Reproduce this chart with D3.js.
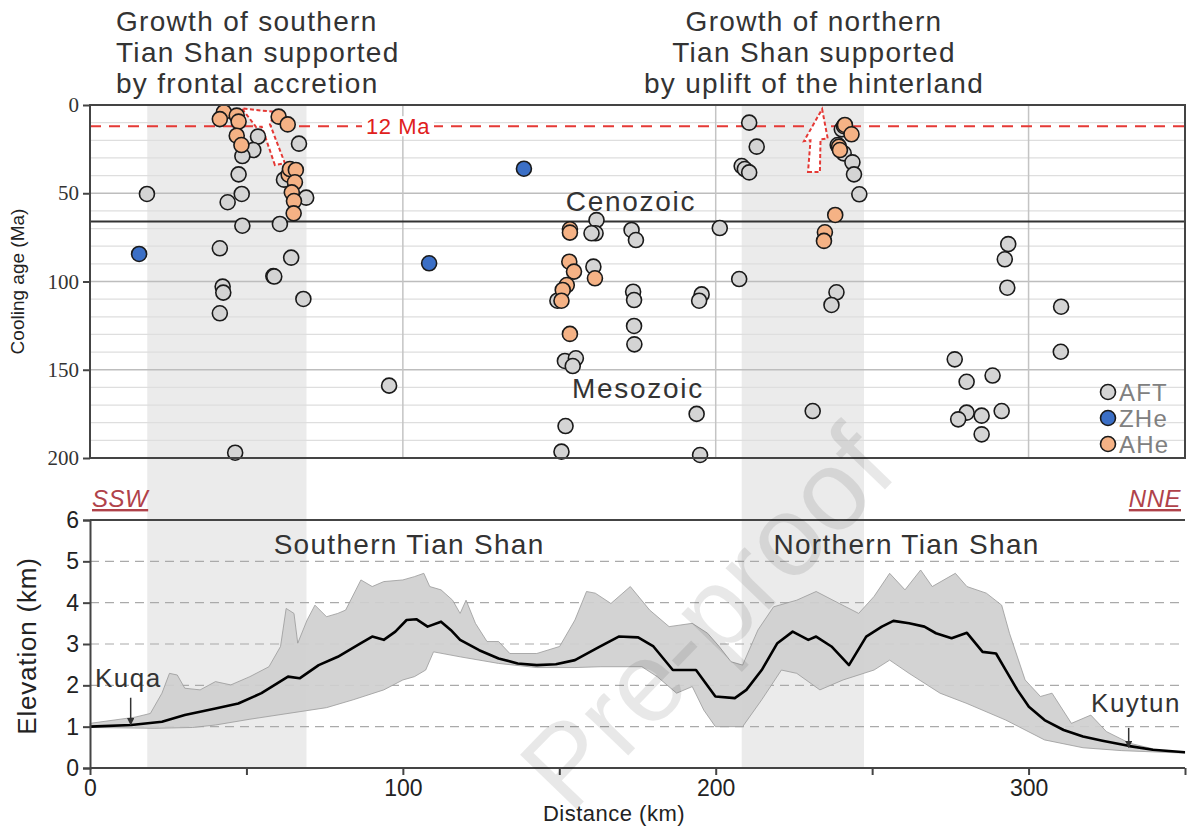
<!DOCTYPE html>
<html>
<head>
<meta charset="utf-8">
<script src="https://cdn.jsdelivr.net/npm/d3@7"></script>
<style>
  body { margin: 0; background: #fff; }
  text { font-family: "Liberation Sans", Arial, sans-serif; }
</style>
</head>
<body>
<svg id="chart" width="1187" height="828"></svg>
<script>
// thermochronology ages (distance km, cooling age Ma)
var aftDist = [18.2, 46.4, 41.5, 42.4, 42.6, 41.5, 44, 48.7, 47.5, 48.5, 53.7, 52.2, 48.7, 66.8, 62, 69.1, 60.7, 64.3, 58.6, 58.9, 68.2, 95.6,
  161.9, 161.6, 160.3, 173.1, 174.5, 201.3, 160.9, 149.4, 173.6, 173.9, 195.5, 194.7, 173.9, 174, 151.8, 155.3, 154.3, 193.9, 152, 150.7, 195,
  210.7, 213.1, 208.3, 209.3, 210.7, 207.5, 238.6, 237, 231, 240.3, 240.9, 243.7, 244.2, 245.9, 239,
  293.5, 292.4, 293.2, 310.4, 310.3, 276.4, 288.5, 280.2, 291.4, 280.2, 285, 277.5, 285];
var aftAge = [50.4, 197, 81.2, 102.9, 106.3, 118, 55.1, 68.4, 39.3, 50.4, 17.9, 25.5, 28.9, 21.9, 42.3, 52.5, 67.4, 86.5, 96.9, 97.2, 109.9, 159,
  65.2, 72.7, 72.7, 70.8, 76.5, 69.7, 91.6, 110.9, 105.8, 110.5, 107.3, 110.9, 125.2, 135.6, 145, 143.5, 147.9, 175, 181.9, 196.4, 198.3,
  10, 23.6, 34.6, 36.3, 38.2, 98.6, 106.1, 113.3, 173.4, 13.8, 27.4, 32.5, 39.3, 50.6, 22.7,
  78.8, 87.4, 103.5, 114.3, 139.8, 144.1, 153.3, 156.8, 173.4, 174.3, 176, 178.1, 186.6];
var zheDist = [15.7, 108.4, 138.7];
var zheAge = [84.4, 89.7, 36.1];
var aheDist = [42.8, 41.5, 46.9, 47.5, 46.9, 48.4, 60.3, 63.2, 63.5, 63.9, 65.8, 65.5, 64.5, 65.2, 65.1,
  153.4, 153.4, 153.2, 154.7, 161.4, 152.4, 151.1, 150.7, 153.4,
  241, 241.3, 243.4, 239.4, 239.7, 238.2, 234.9, 234.6];
var aheAge = [4.1, 8, 6, 9.4, 17.4, 22.7, 6.6, 11, 39.5, 36.3, 36.8, 43.8, 49.5, 54.4, 61.4,
  70.4, 72.3, 88.8, 94.4, 98.2, 102, 104.8, 110.9, 129.7,
  12, 11.3, 16.6, 23.6, 25.5, 62.3, 72.1, 77];

// swath topographic profile (distance km, elevation km)
var meanDist = [0, 13.2, 23, 30.3, 40.1, 47.4, 54.8, 63.3, 67, 73.1, 79.2, 86.6, 90.2, 93.9, 97.6, 101.2, 104.3, 107.9, 112.2, 115.3, 118.3,
  124.4, 130.6, 136.7, 142.8, 148.9, 155, 162.5, 169, 175.2, 180.1, 186.3, 193.7, 199.9, 206.1, 209.8, 214.7, 219.7, 224.6, 229.6, 232.1,
  237, 242.6, 248.1, 253.1, 256.8, 261.8, 266.7, 270.4, 275.4, 280.3, 285.3, 289.6, 292.7, 296.4, 300.1, 305.1, 311.2, 317.4, 323.6, 332.3, 339.7, 350];
var meanElev = [1.0, 1.04, 1.12, 1.28, 1.44, 1.56, 1.81, 2.21, 2.17, 2.49, 2.69, 3.02, 3.18, 3.1, 3.3, 3.58, 3.6, 3.42, 3.54, 3.34, 3.1,
  2.85, 2.65, 2.53, 2.49, 2.51, 2.61, 2.92, 3.18, 3.16, 2.94, 2.37, 2.37, 1.73, 1.69, 1.89, 2.37, 3.02, 3.3, 3.1, 3.18,
  2.94, 2.49, 3.18, 3.42, 3.56, 3.5, 3.42, 3.26, 3.14, 3.27, 2.81, 2.77, 2.37, 1.89, 1.48, 1.16, 0.92, 0.76, 0.66, 0.53, 0.44, 0.38];
var maxDist = [0, 14.4, 19.3, 23, 25.4, 27.9, 30.3, 35.2, 40.1, 45, 51.1, 57.2, 60.9, 62.7, 65.2, 66.4, 69.4, 71.9, 75.6, 79.2, 81.7, 86.6,
  90.2, 93.9, 100, 103.7, 106.7, 108.6, 112.2, 115.9, 118.3, 120.2, 123.2, 126.9, 130.6, 134.2, 142.8, 150.1, 155, 158.7, 161.5, 166.5,
  172.7, 178.9, 185.1, 192.5, 197.4, 201.1, 204.9, 208.6, 213.5, 218.5, 225.9, 232.1, 239.5, 245.7, 250.6, 255.6, 260.5, 265.5, 269.2,
  276.6, 280.3, 286.5, 291.4, 293.9, 298.9, 303.8, 307.5, 313.7, 319.9, 324.9, 332.3, 342.2, 350];
var maxElev = [1.08, 1.23, 1.32, 1.81, 2.29, 2.25, 1.93, 1.89, 2.09, 2.01, 2.21, 2.45, 2.94, 3.86, 3.74, 3.02, 3.58, 3.94, 3.66, 3.74, 3.82, 4.55,
  4.39, 4.51, 4.55, 4.63, 4.71, 4.39, 4.31, 4.06, 3.74, 4.06, 3.5, 3.06, 3.06, 2.77, 2.77, 2.94, 3.58, 4.27, 4.23, 3.98,
  4.39, 3.82, 3.42, 3.5, 3.26, 2.94, 2.57, 2.49, 3.34, 3.9, 4.06, 4.27, 3.98, 3.74, 4.15, 4.71, 4.31, 4.79, 4.39,
  4.71, 4.39, 4.23, 3.94, 3.26, 2.13, 1.73, 1.81, 1.08, 1.28, 0.88, 0.6, 0.42, 0.37];
var minDist = [0, 20.5, 32.8, 40.1, 51.1, 63.3, 75.6, 84.1, 93.9, 100, 103.7, 107.3, 109.8, 118.3, 130.6, 142.8, 155, 163.3, 176.4, 181.3,
  187.5, 192.5, 196.2, 199.9, 208.6, 214.7, 221, 225.9, 233.3, 240.7, 250.6, 255.6, 261.8, 271.7, 280.3, 292.7, 305.1, 317.4, 329.8, 350];
var minElev = [0.98, 0.96, 0.98, 1.04, 1.18, 1.32, 1.46, 1.65, 1.89, 2.13, 2.21, 2.37, 2.81, 2.69, 2.53, 2.43, 2.43, 2.45, 2.45, 2.21,
  1.81, 1.97, 1.4, 1.0, 1.0, 1.65, 2.37, 2.29, 1.89, 2.13, 2.37, 2.61, 2.29, 1.81, 1.56, 1.16, 0.68, 0.49, 0.42, 0.36];

var bands = [[18.3, 69.2], [208.3, 247.4]];
var cenozoicBase = 66, marker12 = 12;
var ageTicks = [0, 50, 100, 150, 200];
var elevTicks = [0, 1, 2, 3, 4, 5, 6];
var distTicks = [0, 100, 200, 300];

var svg = d3.select("#chart");
var x = d3.scaleLinear().domain([0, 350]).range([90, 1185]);
var yAge = d3.scaleLinear().domain([0, 200]).range([105, 458]);
var yElev = d3.scaleLinear().domain([0, 6]).range([768, 520]);

function label(g, txt, px, py, size, ls, anchor, fill) {
  return g.append("text").attr("x", px).attr("y", py).attr("text-anchor", anchor || "start")
    .style("font-size", size + "px").style("letter-spacing", ls + "px").style("fill", fill || "#333").text(txt);
}

// shaded bands through both panels
svg.selectAll(".band").data(bands).enter().append("rect")
  .attr("x", d => x(d[0])).attr("width", d => x(d[1]) - x(d[0]))
  .attr("y", yAge(0)).attr("height", yElev(0) - yAge(0))
  .style("fill", "#ebebeb");

// ---------- top panel ----------
var topG = svg.append("g");
topG.selectAll(".hg").data(d3.range(10, 200, 10)).enter().append("line")
  .attr("x1", x(0)).attr("x2", x(350)).attr("y1", d => yAge(d)).attr("y2", d => yAge(d))
  .style("stroke", d => d % 50 == 0 ? "#bdbdbd" : "#dedede").style("stroke-width", d => d % 50 == 0 ? 1.5 : 1.2);
topG.selectAll(".vg").data([100, 200, 300]).enter().append("line")
  .attr("x1", d => x(d)).attr("x2", d => x(d)).attr("y1", yAge(0)).attr("y2", yAge(200))
  .style("stroke", "#c4c4c4").style("stroke-width", 1.5);

topG.append("line").attr("x1", x(0)).attr("x2", x(350))
  .attr("y1", yAge(cenozoicBase)).attr("y2", yAge(cenozoicBase))
  .style("stroke", "#333").style("stroke-width", 2);
topG.append("line").attr("x1", x(0)).attr("x2", x(350))
  .attr("y1", yAge(marker12)).attr("y2", yAge(marker12))
  .style("stroke", "#e53935").style("stroke-width", 2).style("stroke-dasharray", "11,8");
topG.append("rect").attr("x", 362).attr("y", yAge(marker12) - 10).attr("width", 72).attr("height", 20).style("fill", "#fff");
label(topG, "12 Ma", 398, yAge(marker12) + 8, 22, 0.6, "middle", "#e0201c");

// exhumation arrows
var arrows = [
  [[59.1, 34.0], [54.9, 12.3], [53.1, 12.5], [48.5, 1.9], [59.4, 4.0], [57.5, 10.8], [62.3, 33.0]],
  [[229.5, 38], [233.3, 38], [233.5, 19.5], [235.8, 19], [234, 2.3], [228.2, 20.5], [230.3, 20]]
];
topG.selectAll(".arrow").data(arrows).enter().append("path")
  .attr("d", d => d3.line().x(p => x(p[0])).y(p => yAge(p[1]))(d) + "Z")
  .style("fill", "#fff").style("stroke", "#e53935").style("stroke-width", 2).style("stroke-dasharray", "4,2.5");

function dots(dist, age, fill) {
  topG.append("g").selectAll("circle").data(dist).enter().append("circle")
    .attr("cx", (d, i) => x(d)).attr("cy", (d, i) => yAge(age[i])).attr("r", 7.5)
    .style("fill", fill).style("stroke", "#1a1a1a").style("stroke-width", 1.6);
}
dots(aftDist, aftAge, "#d4d4d4");
dots(zheDist, zheAge, "#3b6fc6");
dots(aheDist, aheAge, "#f5b285");

topG.append("rect").attr("x", x(0)).attr("y", yAge(0)).attr("width", x(350) - x(0)).attr("height", yAge(200) - yAge(0))
  .style("fill", "none").style("stroke", "#444").style("stroke-width", 2);
var ay = topG.append("g").attr("transform", "translate(" + x(0) + ",0)")
  .call(d3.axisLeft(yAge).tickValues(ageTicks).tickSize(7).tickPadding(4));
ay.select(".domain").remove();
ay.selectAll("line").style("stroke", "#444").style("stroke-width", 2);
ay.selectAll("text").style("font-family", "'Liberation Serif', 'Times New Roman', serif").style("font-size", "21px").style("fill", "#333");
topG.append("text").attr("transform", "translate(24," + yAge(100) + ") rotate(-90)").attr("text-anchor", "middle")
  .style("font-size", "19px").style("fill", "#222").text("Cooling age (Ma)");

label(topG, "Cenozoic", 631, 211, 28, 1.7, "middle");
label(topG, "Mesozoic", 638, 398, 28, 1.7, "middle");

var legend = [["AFT", "#d4d4d4"], ["ZHe", "#3b6fc6"], ["AHe", "#f5b285"]];
var lg = topG.selectAll(".lg").data(legend).enter().append("g")
  .attr("transform", (d, i) => "translate(1108," + (392 + i * 26) + ")");
lg.append("circle").attr("r", 7.5).style("fill", d => d[1]).style("stroke", "#1a1a1a").style("stroke-width", 1.6);
lg.append("text").attr("x", 11).attr("y", 8.5).style("font-size", "24px").style("letter-spacing", "1.2px").style("fill", "#808080").text(d => d[0]);

// titles
var t1 = ["Growth of southern", "Tian Shan supported", "by frontal accretion"];
var t2 = ["Growth of northern", "Tian Shan supported", "by uplift of the hinterland"];
t1.forEach((d, i) => label(svg, d, 116, 31 + i * 31, 28, 1.3, "start"));
t2.forEach((d, i) => label(svg, d, 814, 31 + i * 31, 28, 1.3, "middle"));

// ---------- bottom panel ----------
var bot = svg.append("g");
bot.selectAll(".eg").data([1, 2, 3, 4, 5]).enter().append("line")
  .attr("x1", x(0)).attr("x2", x(350)).attr("y1", d => yElev(d)).attr("y2", d => yElev(d))
  .style("stroke", "#aaa").style("stroke-width", 1.2).style("stroke-dasharray", "9,6");

var env = maxDist.map((d, i) => [d, maxElev[i]])
  .concat(minDist.map((d, i) => [d, minElev[i]]).reverse());
bot.append("path").attr("d", d3.line().x(p => x(p[0])).y(p => yElev(p[1]))(env) + "Z")
  .style("fill", "#cfcfcf").style("fill-opacity", 0.92).style("stroke", "#999").style("stroke-width", 0.8);
bot.append("path").datum(meanDist)
  .attr("d", d3.line().x(d => x(d)).y((d, i) => yElev(meanElev[i])))
  .style("fill", "none").style("stroke", "#000").style("stroke-width", 2.6).style("stroke-linejoin", "round");

bot.append("line").attr("x1", x(0)).attr("x2", x(350)).attr("y1", yElev(6)).attr("y2", yElev(6))
  .style("stroke", "#444").style("stroke-width", 2);
var bx = bot.append("g").attr("transform", "translate(0," + yElev(0) + ")")
  .call(d3.axisBottom(x).tickValues(d3.range(0, 351, 50)).tickSize(7).tickPadding(5)
    .tickFormat(d => distTicks.indexOf(d) >= 0 ? d : ""));
bx.select(".domain").style("stroke", "#444").style("stroke-width", 2).attr("d", "M" + x(0) + ",0H" + x(350));
bx.selectAll("line").style("stroke", "#444").style("stroke-width", 2);
bx.selectAll("text").style("font-size", "23px").style("fill", "#222");
var by = bot.append("g").attr("transform", "translate(" + x(0) + ",0)")
  .call(d3.axisLeft(yElev).tickValues(elevTicks).tickSize(7).tickPadding(4).tickFormat(d3.format("d")));
by.select(".domain").style("stroke", "#444").style("stroke-width", 2);
by.selectAll("line").style("stroke", "#444").style("stroke-width", 2);
by.selectAll("text").style("font-size", "23px").style("fill", "#222");

bot.append("text").attr("transform", "translate(36," + (yElev(3) + 2) + ") rotate(-90)").attr("text-anchor", "middle")
  .style("font-size", "26px").style("letter-spacing", "0.8px").style("fill", "#222").text("Elevation (km)");
label(bot, "Distance (km)", 614, 821, 22, 0.5, "middle", "#222");

label(bot, "Southern Tian Shan", x(102), 554, 28, 1.3, "middle");
label(bot, "Northern Tian Shan", x(261), 554, 28, 1.3, "middle");

// towns
label(bot, "Kuqa", 95, yElev(1.95), 26, 1.5, "start");
label(bot, "Kuytun", 1181, yElev(1.35), 26, 1.5, "end");
svg.append("defs").append("marker").attr("id", "ah").attr("viewBox", "0 0 10 10").attr("refX", 9).attr("refY", 5)
  .attr("markerWidth", 5).attr("markerHeight", 5).attr("orient", "auto")
  .append("path").attr("d", "M0,0L10,5L0,10Z").style("fill", "#333");
[[13, 1.7, 1.05], [332, 0.97, 0.5]].forEach(a => {
  bot.append("line").attr("x1", x(a[0])).attr("x2", x(a[0])).attr("y1", yElev(a[1])).attr("y2", yElev(a[2]))
    .style("stroke", "#333").style("stroke-width", 1.5).attr("marker-end", "url(#ah)");
});

// direction labels
[["SSW", 92, "start"], ["NNE", 1181, "end"]].forEach(s => {
  label(bot, s[0], s[1], 507, 24, 0.5, s[2], "#b0424a")
    .style("font-style", "italic").style("text-decoration", "underline");
});

// watermark
svg.append("text").attr("transform", "translate(735,645) rotate(-46)").attr("text-anchor", "middle")
  .style("font-size", "114px").style("fill", "#000").style("fill-opacity", 0.09).text("Pre-proof");
</script>
</body>
</html>
